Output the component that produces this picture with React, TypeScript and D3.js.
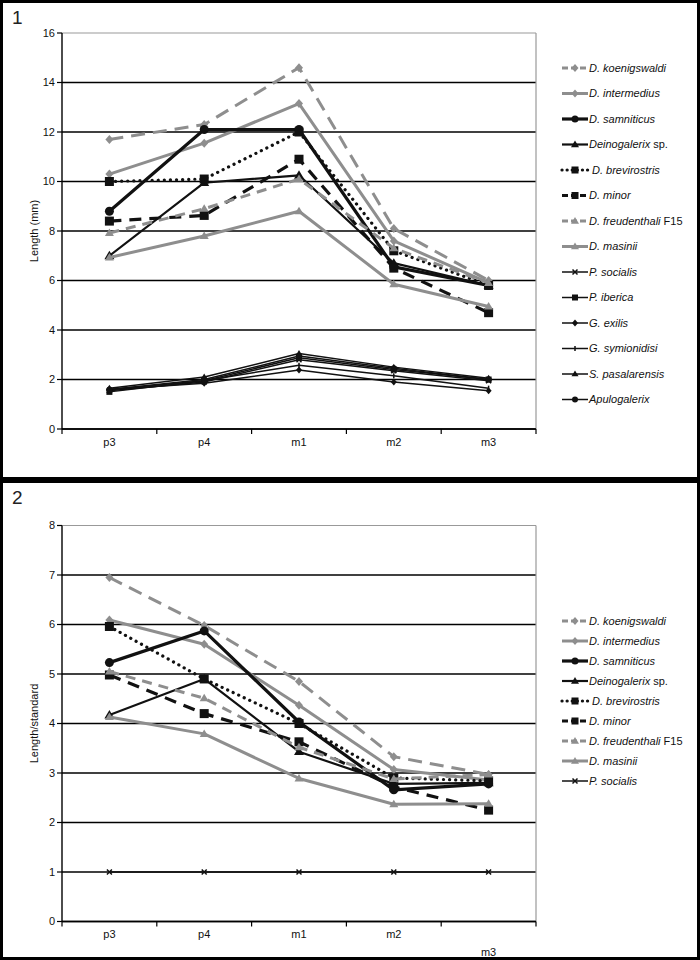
import React from "react";
import * as d3 from "d3";

const categories = ["p3", "p4", "m1", "m2", "m3"];

// Panel 1 — Length (mm)
const p1Koenigswaldi = [11.7, 12.3, 14.6, 8.1, 6.0];
const p1Intermedius = [10.3, 11.55, 13.15, 7.6, 5.9];
const p1Samniticus = [8.8, 12.1, 12.1, 6.55, 5.8];
const p1Deinogalerix = [7.0, 9.95, 10.25, 6.7, 5.8];
const p1Brevirostris = [10.0, 10.1, 12.0, 7.2, 5.8];
const p1Minor = [8.4, 8.63, 10.9, 6.5, 4.7];
const p1Freudenthali = [7.92, 8.9, 10.1, 7.3, 5.9];
const p1Masinii = [6.93, 7.8, 8.8, 5.85, 4.95];
const p1Socialis = [1.55, 1.9, 2.8, 2.35, 1.95];
const p1Iberica = [1.5, 1.95, 2.88, 2.4, 2.0];
const p1Exilis = [1.6, 1.85, 2.38, 1.9, 1.55];
const p1Symionidisi = [1.6, 1.95, 2.58, 2.15, 1.65];
const p1Pasalarensis = [1.65, 2.1, 3.05, 2.5, 2.05];
const p1Apulogalerix = [1.6, 2.0, 2.95, 2.45, 2.0];

// Panel 2 — Length/standard
const p2Koenigswaldi = [6.95, 5.98, 4.85, 3.33, 2.97];
const p2Intermedius = [6.09, 5.6, 4.37, 3.07, 2.86];
const p2Samniticus = [5.23, 5.87, 4.03, 2.66, 2.78];
const p2Deinogalerix = [4.17, 4.9, 3.43, 2.78, 2.8];
const p2Brevirostris = [5.96, 4.9, 4.0, 2.9, 2.84];
const p2Minor = [4.98, 4.2, 3.63, 2.72, 2.25];
const p2Freudenthali = [5.05, 4.51, 3.52, 2.88, 2.97];
const p2Masinii = [4.13, 3.79, 2.89, 2.37, 2.38];
const p2Socialis = [1, 1, 1, 1, 1];

const yTicks1 = [0, 2, 4, 6, 8, 10, 12, 14, 16];
const yTicks2 = [0, 1, 2, 3, 4, 5, 6, 7, 8];

const GRAY = "#8e8e8e";
const BLACK = "#111";

type Style = {
  name: string;
  suffix?: string;
  color: string;
  width: number;
  dash?: string;
  cap?: string;
  marker: string;
  msize: number;
};

const styles: Style[] = [
  { name: "D. koenigswaldi", color: GRAY, width: 3, dash: "14 8", marker: "diamond", msize: 8 },
  { name: "D. intermedius", color: GRAY, width: 3, marker: "diamond", msize: 8 },
  { name: "D. samniticus", color: BLACK, width: 3.2, marker: "circle", msize: 9 },
  { name: "Deinogalerix", suffix: " sp.", color: BLACK, width: 2.2, marker: "triangle", msize: 9 },
  { name: "D. brevirostris", color: BLACK, width: 3.2, dash: "0.1 6", cap: "round", marker: "square", msize: 9 },
  { name: "D. minor", color: BLACK, width: 3.2, dash: "12 8", marker: "square", msize: 9 },
  { name: "D. freudenthali", suffix: " F15", color: GRAY, width: 3, dash: "10 7", marker: "triangle", msize: 8 },
  { name: "D. masinii", color: GRAY, width: 3, marker: "triangle", msize: 8 },
  { name: "P. socialis", color: BLACK, width: 1.5, marker: "x", msize: 5 },
  { name: "P. iberica", color: BLACK, width: 1.5, marker: "square", msize: 6 },
  { name: "G. exilis", color: BLACK, width: 1.5, marker: "diamond", msize: 6 },
  { name: "G. symionidisi", color: BLACK, width: 1.5, marker: "plus", msize: 5 },
  { name: "S. pasalarensis", color: BLACK, width: 1.5, marker: "triangle", msize: 6 },
  { name: "Apulogalerix", color: BLACK, width: 1.5, marker: "circle", msize: 6 },
];

const panel1Data = [
  p1Koenigswaldi, p1Intermedius, p1Samniticus, p1Deinogalerix, p1Brevirostris, p1Minor,
  p1Freudenthali, p1Masinii, p1Socialis, p1Iberica, p1Exilis, p1Symionidisi, p1Pasalarensis, p1Apulogalerix,
];
const panel2Data = [
  p2Koenigswaldi, p2Intermedius, p2Samniticus, p2Deinogalerix, p2Brevirostris, p2Minor,
  p2Freudenthali, p2Masinii, p2Socialis,
];

const FONT = "'Liberation Sans', Arial, sans-serif";

function Marker({ type, x, y, size, color }: { type: string; x: number; y: number; size: number; color: string }) {
  const h = size / 2;
  if (type === "circle") return <circle cx={x} cy={y} r={h} fill={color} />;
  if (type === "square") return <rect x={x - h} y={y - h} width={size} height={size} fill={color} />;
  if (type === "diamond")
    return <path d={`M${x},${y - h - 0.5}L${x + h},${y}L${x},${y + h + 0.5}L${x - h},${y}Z`} fill={color} />;
  if (type === "triangle")
    return <path d={`M${x},${y - h - 0.5}L${x + h + 0.5},${y + h * 0.75}L${x - h - 0.5},${y + h * 0.75}Z`} fill={color} />;
  if (type === "x")
    return (
      <path d={`M${x - h},${y - h}L${x + h},${y + h}M${x - h},${y + h}L${x + h},${y - h}`} stroke={color} strokeWidth={1.5} />
    );
  if (type === "plus") return <path d={`M${x},${y - h}L${x},${y + h}`} stroke={color} strokeWidth={1.5} />;
  return null;
}

function Panel({
  top, label, yTop, yBottom, yMax, yTicks, data, yTitle, legendY, legendStep, staggerLast,
}: {
  top: number; label: string; yTop: number; yBottom: number; yMax: number; yTicks: number[];
  data: number[][]; yTitle: string; legendY: number; legendStep: number; staggerLast: boolean;
}) {
  const x0 = 62, x1 = 536;
  const xs = d3.scaleBand<string>().domain(categories).range([x0, x1]);
  const ys = d3.scaleLinear().domain([0, yMax]).range([yBottom, yTop]);
  const cx = (c: string) => (xs(c) as number) + xs.bandwidth() / 2;
  const line = d3
    .line<number>()
    .x((_, i) => cx(categories[i]))
    .y((v) => ys(v));
  const boundaries = categories.map((c) => xs(c) as number).concat([x1]);

  return (
    <g>
      <rect x={1.5} y={top + 1.5} width={697} height={477} fill="#fff" stroke="#000" strokeWidth={3} />
      <text x={12} y={top + 24} fontFamily={FONT} fontSize={19} fill="#222">{label}</text>
      {yTicks.map((t) => (
        <line key={t} x1={x0} x2={x1} y1={ys(t)} y2={ys(t)}
          stroke={t === yMax ? "#999" : "#000"} strokeWidth={t === yMax ? 1.2 : 1.4} />
      ))}
      <line x1={x1} x2={x1} y1={yTop} y2={yBottom} stroke="#999" strokeWidth={1.2} />
      <line x1={x0} x2={x0} y1={yTop} y2={yBottom} stroke="#000" strokeWidth={1.4} />
      {yTicks.map((t) => (
        <g key={"yt" + t}>
          <line x1={x0 - 5} x2={x0} y1={ys(t)} y2={ys(t)} stroke="#000" strokeWidth={1.2} />
          <text x={x0 - 7} y={ys(t)} dy="0.35em" textAnchor="end" fontFamily={FONT} fontSize={11} fill="#111">{t}</text>
        </g>
      ))}
      <text transform={`translate(38,${(yTop + yBottom) / 2}) rotate(-90)`} textAnchor="middle"
        fontFamily={FONT} fontSize={11} fill="#111">{yTitle}</text>
      <line x1={x0} x2={x1} y1={yBottom} y2={yBottom} stroke="#000" strokeWidth={1.6} />
      {boundaries.map((b, i) => (
        <line key={"xt" + i} x1={b} x2={b} y1={yBottom} y2={yBottom + 5} stroke="#000" strokeWidth={1.2} />
      ))}
      {categories.map((c, i) => (
        <text key={c} x={cx(c)} y={yBottom + 13 + (staggerLast && i === categories.length - 1 ? 18 : 0)}
          dy="0.35em" textAnchor="middle" fontFamily={FONT} fontSize={11} fill="#111">{c}</text>
      ))}
      {data.map((vals, si) => {
        const s = styles[si];
        return (
          <g key={s.name}>
            <path d={line(vals) as string} fill="none" stroke={s.color} strokeWidth={s.width}
              strokeDasharray={s.dash} strokeLinecap={(s.cap as any) || "butt"} strokeLinejoin="round" />
            {vals.map((v, i) => (
              <Marker key={i} type={s.marker} x={cx(categories[i])} y={ys(v)} size={s.msize} color={s.color} />
            ))}
          </g>
        );
      })}
      {data.map((_, si) => {
        const s = styles[si];
        const ly = legendY + si * legendStep;
        return (
          <g key={"lg" + si}>
            <line x1={562} x2={588} y1={ly} y2={ly} stroke={s.color} strokeWidth={s.width}
              strokeDasharray={s.dash ? (s.cap ? "0.1 5" : "6 3") : undefined}
              strokeLinecap={(s.cap as any) || "butt"} />
            <Marker type={s.marker} x={575} y={ly} size={Math.min(s.msize, 7)} color={s.color} />
            <text x={s.cap ? 592 : 589} y={ly} dy="0.35em" fontFamily={FONT} fontSize={11} fill="#111">
              <tspan fontStyle="italic">{s.name}</tspan>
              {s.suffix ? <tspan>{s.suffix}</tspan> : null}
            </text>
          </g>
        );
      })}
    </g>
  );
}

export default function App() {
  return (
    <div style={{ position: "absolute", left: 0, top: 0 }}>
      <svg width={700} height={960} style={{ display: "block", background: "#fff" }}>
        <Panel top={0} label="1" yTop={33} yBottom={429} yMax={16} yTicks={yTicks1} data={panel1Data}
          yTitle="Length (mm)" legendY={68} legendStep={25.5} staggerLast={false} />
        <Panel top={480} label="2" yTop={525.5} yBottom={921.5} yMax={8} yTicks={yTicks2} data={panel2Data}
          yTitle="Length/standard" legendY={621} legendStep={20} staggerLast={true} />
      </svg>
    </div>
  );
}
